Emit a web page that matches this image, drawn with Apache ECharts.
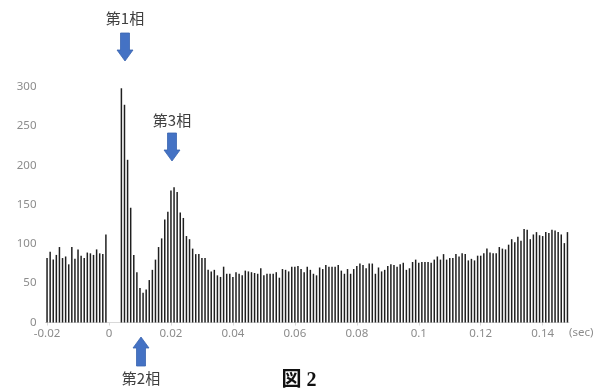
<!DOCTYPE html>
<html>
<head>
<meta charset="utf-8">
<script src="https://cdn.jsdelivr.net/npm/echarts@6/dist/echarts.min.js"></script>
<style>
  html, body { margin: 0; padding: 0; background: #ffffff; }
  #chart { width: 596px; height: 391px; }
</style>
</head>
<body>
<div id="chart"></div>
<script>
// Histogram bins (sec), 1 ms wide, from -0.020 to 0.148
const binTimes = [
  "-0.020","-0.019","-0.018","-0.017","-0.016","-0.015","-0.014","-0.013","-0.012","-0.011",
  "-0.010","-0.009","-0.008","-0.007","-0.006","-0.005","-0.004","-0.003","-0.002","-0.001",
  "0.000","0.001","0.002","0.003","0.004","0.005","0.006","0.007","0.008","0.009",
  "0.010","0.011","0.012","0.013","0.014","0.015","0.016","0.017","0.018","0.019",
  "0.020","0.021","0.022","0.023","0.024","0.025","0.026","0.027","0.028","0.029",
  "0.030","0.031","0.032","0.033","0.034","0.035","0.036","0.037","0.038","0.039",
  "0.040","0.041","0.042","0.043","0.044","0.045","0.046","0.047","0.048","0.049",
  "0.050","0.051","0.052","0.053","0.054","0.055","0.056","0.057","0.058","0.059",
  "0.060","0.061","0.062","0.063","0.064","0.065","0.066","0.067","0.068","0.069",
  "0.070","0.071","0.072","0.073","0.074","0.075","0.076","0.077","0.078","0.079",
  "0.080","0.081","0.082","0.083","0.084","0.085","0.086","0.087","0.088","0.089",
  "0.090","0.091","0.092","0.093","0.094","0.095","0.096","0.097","0.098","0.099",
  "0.100","0.101","0.102","0.103","0.104","0.105","0.106","0.107","0.108","0.109",
  "0.110","0.111","0.112","0.113","0.114","0.115","0.116","0.117","0.118","0.119",
  "0.120","0.121","0.122","0.123","0.124","0.125","0.126","0.127","0.128","0.129",
  "0.130","0.131","0.132","0.133","0.134","0.135","0.136","0.137","0.138","0.139",
  "0.140","0.141","0.142","0.143","0.144","0.145","0.146","0.147","0.148"
];

// Counts per bin
const counts = [
  82, 90, 80, 86, 96, 82, 84, 74, 96, 81,
  93, 85, 82, 89, 88, 86, 93, 88, 87, 112,
  0, 0, 0, 0, 298, 277, 207, 146, 86, 64,
  44, 38, 42, 54, 67, 80, 96, 107, 131, 141,
  168, 172, 166, 140, 133, 110, 106, 94, 87, 87,
  82, 82, 67, 65, 67, 60, 58, 71, 62, 62,
  58, 64, 62, 60, 66, 65, 64, 63, 62, 69,
  60, 62, 62, 62, 64, 57, 68, 67, 65, 71,
  71, 72, 68, 64, 71, 67, 62, 60, 70, 68,
  73, 71, 71, 71, 73, 66, 62, 68, 62, 68,
  72, 75, 73, 69, 75, 75, 62, 70, 65, 67,
  72, 74, 73, 71, 74, 76, 67, 69, 77, 80,
  76, 77, 77, 77, 76, 80, 84, 80, 87, 80,
  82, 82, 87, 84, 88, 87, 79, 81, 79, 85,
  85, 88, 94, 89, 88, 88, 96, 94, 93, 99,
  106, 102, 109, 104, 119, 118, 106, 112, 115, 111,
  110, 115, 114, 118, 117, 115, 112, 101, 115
];

// Labels shown on every 20th bin
const xTickLabels = ["-0.02", "0", "0.02", "0.04", "0.06", "0.08", "0.1", "0.12", "0.14"];
const yTicks = [0, 50, 100, 150, 200, 250, 300];

const chart = echarts.init(document.getElementById('chart'), null, { renderer: 'canvas' });

const axisFont = '"Noto Sans", "Noto Sans CJK JP", sans-serif';
const labelFont = '"Noto Sans CJK JP", sans-serif';
const arrowBlue = '#4472C4';
const arrowEdge = '#3A64B0';

// Block arrow polygon pointing from tail to tip (vertical)
function blockArrow(cx, tail, tip) {
  const dir = tip > tail ? 1 : -1;
  const headLen = 11, shaftHalf = 4.5, headHalf = 8;
  const neck = tip - dir * headLen;
  return {
    type: 'polygon',
    shape: {
      points: [
        [cx - shaftHalf, tail], [cx + shaftHalf, tail],
        [cx + shaftHalf, neck], [cx + headHalf, neck],
        [cx, tip],
        [cx - headHalf, neck], [cx - shaftHalf, neck]
      ]
    },
    style: { fill: arrowBlue, stroke: arrowEdge, lineWidth: 0.8 },
    silent: true
  };
}

function phaseText(cx, cy, text) {
  return {
    type: 'text',
    x: cx, y: cy,
    style: {
      text: text,
      font: '15px ' + labelFont,
      fill: '#404040',
      align: 'center',
      verticalAlign: 'middle'
    },
    silent: true
  };
}

chart.setOption({
  animation: false,
  backgroundColor: '#ffffff',
  grid: { left: 45.5, right: 27, top: 86.7, bottom: 68.5, containLabel: false },
  xAxis: {
    type: 'category',
    data: binTimes,
    boundaryGap: true,
    axisLine: { show: true, lineStyle: { color: '#d9d9d9', width: 1 } },
    axisTick: { show: true, interval: 19, alignWithLabel: true, length: 3, lineStyle: { color: '#d9d9d9' } },
    axisLabel: {
      interval: 19,
      margin: 5,
      color: '#8c8c8c',
      fontSize: 11.5,
      fontFamily: axisFont,
      formatter: function (value, index) { return xTickLabels[Math.round(index / 20)]; }
    },
    splitLine: { show: false }
  },
  yAxis: {
    type: 'value',
    min: yTicks[0],
    max: yTicks[yTicks.length - 1],
    interval: 50,
    axisLine: { show: false },
    axisTick: { show: false },
    splitLine: { show: false },
    axisLabel: { margin: 9, color: '#8c8c8c', fontSize: 11.5, fontFamily: axisFont }
  },
  series: [{
    type: 'bar',
    data: counts,
    barWidth: 1.5,
    itemStyle: { color: '#1f1f1f' },
    silent: true
  }],
  graphic: [
    phaseText(125, 18, '第1相'),
    blockArrow(125, 33, 61),
    phaseText(172, 120, '第3相'),
    blockArrow(172, 133, 161),
    blockArrow(141, 366, 337),
    phaseText(141, 378, '第2相'),
    {
      type: 'text', x: 569, y: 333,
      style: { text: '(sec)', font: '11.5px ' + axisFont, fill: '#8c8c8c', align: 'left', verticalAlign: 'middle' },
      silent: true
    },
    {
      type: 'text', x: 299, y: 381,
      style: { text: '図 2', font: 'bold 20px "Liberation Serif", "Noto Sans CJK JP", serif', fill: '#111111', align: 'center', verticalAlign: 'middle' },
      silent: true
    }
  ]
});
</script>
</body>
</html>
